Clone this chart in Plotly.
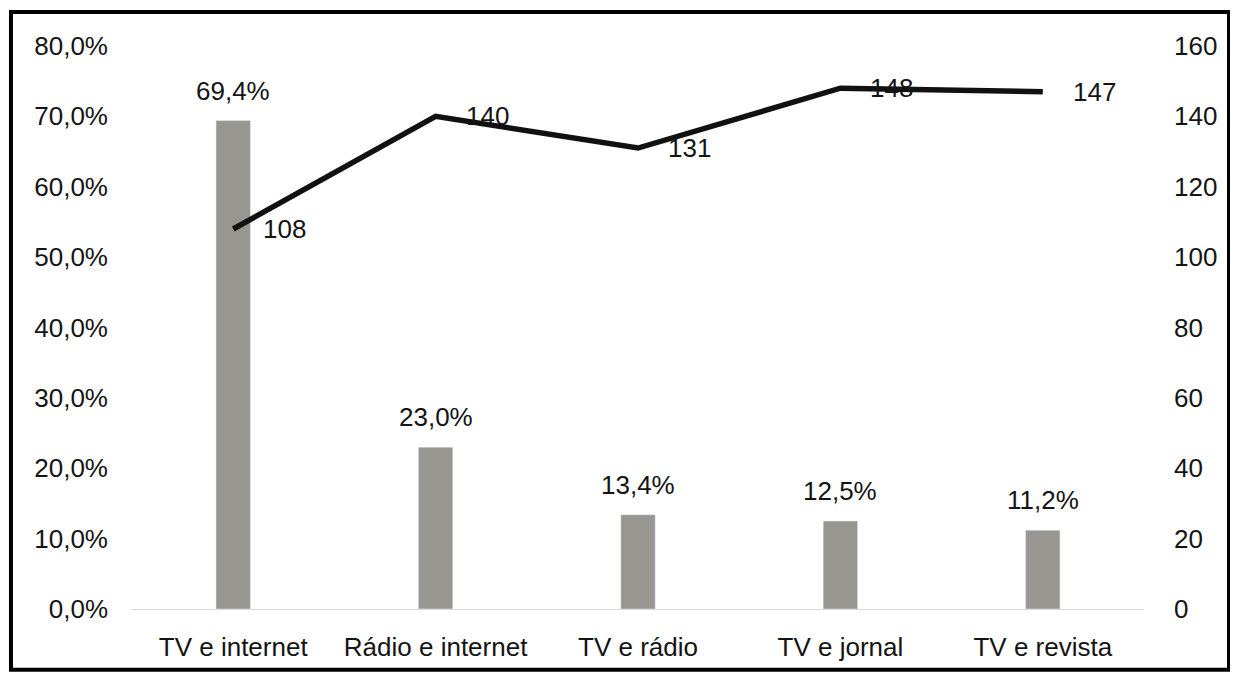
import plotly.graph_objects as go

categories = ["TV e internet", "Rádio e internet", "TV e rádio", "TV e jornal", "TV e revista"]
percent_values = [69.4, 23.0, 13.4, 12.5, 11.2]
count_values = [108, 140, 131, 148, 147]

left_ticks = [0, 10, 20, 30, 40, 50, 60, 70, 80]
right_ticks = [0, 20, 40, 60, 80, 100, 120, 140, 160]

FONT = "Liberation Sans, Arial, sans-serif"
TXT = "#141414"
FS = 26

def pct(v):
    return f"{v:.1f}".replace(".", ",") + "%"

fig = go.Figure()
fig.add_trace(go.Bar(
    x=categories, y=percent_values, marker_color="#979690", width=0.17,
    yaxis="y", hoverinfo="skip", showlegend=False,
))
fig.add_trace(go.Scatter(
    x=categories, y=count_values, mode="lines", yaxis="y2",
    line=dict(color="#111111", width=5.5), showlegend=False,
))

annotations = []
for c, v in zip(categories, percent_values):
    annotations.append(dict(x=c, y=v, xref="x", yref="y", text=pct(v), showarrow=False,
                            yanchor="middle", yshift=30, font=dict(size=FS, color=TXT, family=FONT)))
for c, v in zip(categories, count_values):
    annotations.append(dict(x=c, y=v, xref="x", yref="y2", text=str(v), showarrow=False,
                            xanchor="left", yanchor="middle", xshift=28,
                            font=dict(size=FS, color=TXT, family=FONT)))

# page body adds an 8px margin; size the figure to fit the 1238x682 window
fig.update_layout(
    width=1222, height=666,
    margin=dict(l=124, r=86, t=38, b=63),
    paper_bgcolor="white", plot_bgcolor="white",
    font=dict(family=FONT, size=FS, color=TXT),
    bargap=0.83,
    xaxis=dict(showgrid=False, showline=True, linecolor="#d9d9d9", linewidth=1,
               ticks="", ticklabelstandoff=15, tickfont=dict(size=FS)),
    yaxis=dict(range=[0, 80], tickvals=left_ticks, ticktext=[pct(v) for v in left_ticks],
               showgrid=False, zeroline=False, showline=False, ticklabelstandoff=23,
               tickfont=dict(size=FS)),
    yaxis2=dict(range=[0, 160], tickvals=right_ticks, overlaying="y", side="right",
                showgrid=False, zeroline=False, showline=False, ticklabelstandoff=29,
                tickfont=dict(size=FS)),
    annotations=annotations,
    shapes=[dict(type="rect", xref="paper", yref="paper",
                 x0=-0.1196, x1=1.084, y0=-0.108, y1=1.0602,
                 line=dict(color="#000000", width=4), fillcolor="rgba(0,0,0,0)")],
)

fig.write_html("out.html")
